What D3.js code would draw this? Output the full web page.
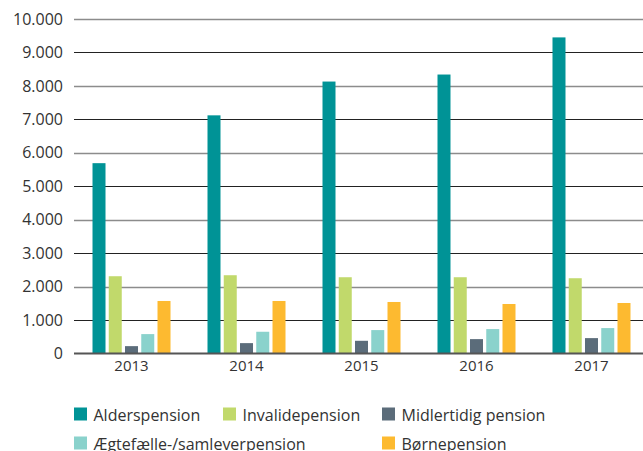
<!DOCTYPE html>
<html>
<head>
<meta charset="utf-8">
<script src="https://cdn.jsdelivr.net/npm/d3@7"></script>
<style>
  html, body { margin: 0; padding: 0; background: #fff; }
  svg { display: block; }
  text { font-family: "Open Sans", "Noto Sans", sans-serif; fill: #333; }
</style>
</head>
<body>
<svg id="chart" width="643" height="451"></svg>
<script>
const years = ["2013", "2014", "2015", "2016", "2017"];
const seriesNames = ["Alderspension", "Invalidepension", "Midlertidig pension", "Ægtefælle-/samleverpension", "Børnepension"];
const seriesColors = ["#009396", "#c1d96b", "#5b6c7a", "#8ad2cc", "#fdba30"];
const alderspension = [5690, 7120, 8130, 8340, 9450];
const invalidepension = [2310, 2340, 2280, 2280, 2250];
const midlertidigPension = [220, 310, 380, 430, 460];
const aegtefaellePension = [580, 650, 700, 730, 760];
const boernepension = [1570, 1570, 1540, 1480, 1510];
const yTicks = [0, 1000, 2000, 3000, 4000, 5000, 6000, 7000, 8000, 9000, 10000];

const seriesValues = [alderspension, invalidepension, midlertidigPension, aegtefaellePension, boernepension];
const data = years.map((yr, i) => ({ year: yr, values: seriesNames.map((s, j) => ({ key: s, idx: j, value: seriesValues[j][i] })) }));

const svg = d3.select("#chart");
const mLeft = 74, mRight = 643, mTop = 19, mBottom = 353.5;

const y = d3.scaleLinear().domain([0, 10000]).range([mBottom, mTop]);
const x0 = d3.scaleBand().domain(years).range([mLeft, mLeft + 5 * 115]).paddingInner(0.3217).paddingOuter(0.1609);
const x1 = d3.scaleBand().domain(seriesNames).range([0, x0.bandwidth()]).paddingInner(0.2);

const fmt = v => d3.format(",")(v).replace(/,/g, ".");

// gridlines
svg.append("g").selectAll("line").data(yTicks.filter(t => t > 0)).join("line")
  .attr("x1", mLeft).attr("x2", mRight)
  .attr("y1", d => Math.round(y(d)) + 0.5).attr("y2", d => Math.round(y(d)) + 0.5)
  .attr("stroke", d => (d / 1000) % 2 === 0 ? "#8c8c8c" : "#222")
  .attr("stroke-width", d => (d / 1000) % 2 === 0 ? 1.4 : 1);

// y tick labels
const yAxis = d3.axisLeft(y).tickValues(yTicks).tickFormat(fmt).tickSize(0).tickPadding(11);
const gy = svg.append("g").attr("transform", `translate(${mLeft},0)`).call(yAxis);
gy.select(".domain").remove();
gy.selectAll("text").style("font-size", "16px").attr("fill", "#333").attr("font-family", null);

// bars
svg.append("g").selectAll("g").data(data).join("g")
  .attr("transform", d => `translate(${x0(d.year)},0)`)
  .selectAll("rect").data(d => d.values).join("rect")
  .attr("x", d => x1(d.key))
  .attr("width", x1.bandwidth())
  .attr("y", d => y(d.value))
  .attr("height", d => y(0) - y(d.value))
  .attr("fill", d => seriesColors[d.idx]);

// baseline
svg.append("line").attr("x1", mLeft).attr("x2", mRight)
  .attr("y1", y(0)).attr("y2", y(0)).attr("stroke", "#555").attr("stroke-width", 2);

// x axis labels
const xAxis = d3.axisBottom(x0).tickSize(0).tickPadding(7);
const gx = svg.append("g").attr("transform", `translate(0,${y(0)})`).call(xAxis);
gx.select(".domain").remove();
gx.selectAll("text").style("font-size", "15px").attr("fill", "#333").attr("font-family", null);

// legend
const legendPos = [[74, 407.5], [223, 407.5], [382, 407.5], [74, 436.5], [382, 436.5]];
const lg = svg.append("g").selectAll("g").data(seriesNames).join("g")
  .attr("transform", (d, i) => `translate(${legendPos[i][0]},${legendPos[i][1]})`);
lg.append("rect").attr("width", 13).attr("height", 13).attr("fill", (d, i) => seriesColors[i]);
lg.append("text").attr("x", 19.5).attr("y", 13).style("font-size", "16px").text(d => d);
</script>
</body>
</html>
